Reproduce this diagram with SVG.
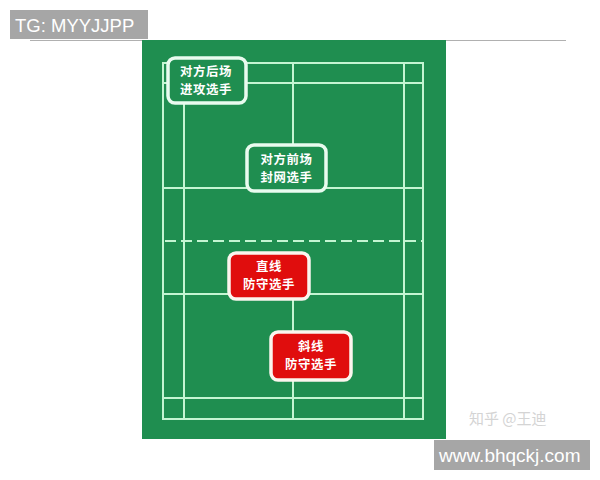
<svg xmlns="http://www.w3.org/2000/svg" width="600" height="480" viewBox="0 0 600 480">
<style>
.court{stroke:#c4f5d2;stroke-width:2;fill:none}
.gbox{fill:#1f8e50;stroke:#e9fbef;stroke-width:3.5}
.rbox{fill:#e00d0d;stroke:#fbf5ee;stroke-width:3.5}
.lbl{font-family:"Noto Sans CJK SC","Noto Sans",sans-serif;font-size:12.4px;font-weight:bold;letter-spacing:0.6px;fill:#ffffff;text-anchor:middle}
.wm{font-family:"Liberation Sans",Arial,sans-serif;fill:#ffffff}
</style>
<rect width="600" height="480" fill="#ffffff"/>
<line x1="30" y1="40.5" x2="566" y2="40.5" stroke="#b0b0b0" stroke-width="1.2"/>
<rect x="142" y="40" width="304" height="399" fill="#1f8e50"/>
<g id="court">
<rect class="court" x="163" y="63" width="260" height="356"/>
<line class="court" x1="184" y1="63" x2="184" y2="419"/>
<line class="court" x1="404" y1="63" x2="404" y2="419"/>
<line class="court" x1="163" y1="83" x2="423" y2="83"/>
<line class="court" x1="163" y1="188" x2="423" y2="188"/>
<line class="court" x1="163" y1="294" x2="423" y2="294"/>
<line class="court" x1="163" y1="398" x2="423" y2="398"/>
<line class="court" x1="293" y1="63" x2="293" y2="188"/>
<line class="court" x1="293" y1="294" x2="293" y2="419"/>
<line class="court" x1="165" y1="241" x2="423" y2="241" stroke-dasharray="11 5"/>
</g>
<g id="n1">
<rect class="gbox" x="168" y="58" width="78" height="45" rx="7"/>
<text class="lbl" x="206" y="75.5">对方后场</text>
<text class="lbl" x="206" y="93.5">进攻选手</text>
</g>
<g id="n2">
<rect class="gbox" x="247" y="145" width="79" height="46" rx="7"/>
<text class="lbl" x="286.5" y="164">对方前场</text>
<text class="lbl" x="286.5" y="182">封网选手</text>
</g>
<g id="n3">
<rect class="rbox" x="229" y="253" width="80" height="46" rx="7"/>
<text class="lbl" x="269" y="270.5">直线</text>
<text class="lbl" x="269" y="288.5">防守选手</text>
</g>
<g id="n4">
<rect class="rbox" x="271" y="332" width="80" height="48" rx="7"/>
<text class="lbl" x="311" y="351">斜线</text>
<text class="lbl" x="311" y="369">防守选手</text>
</g>
<text x="469" y="424" font-family="'Noto Sans CJK SC',sans-serif" font-size="15" fill="#d4d4d4">知乎 @王迪</text>
<g id="wm1">
<rect x="10" y="10" width="138" height="29" fill="#a6a6a6"/>
<text class="wm" x="15" y="32" font-size="18.5">TG: MYYJJPP</text>
</g>
<g id="wm2">
<rect x="434" y="440" width="156" height="30" fill="#a6a6a6"/>
<text class="wm" x="439" y="462" font-size="19">www.bhqckj.com</text>
</g>
</svg>
